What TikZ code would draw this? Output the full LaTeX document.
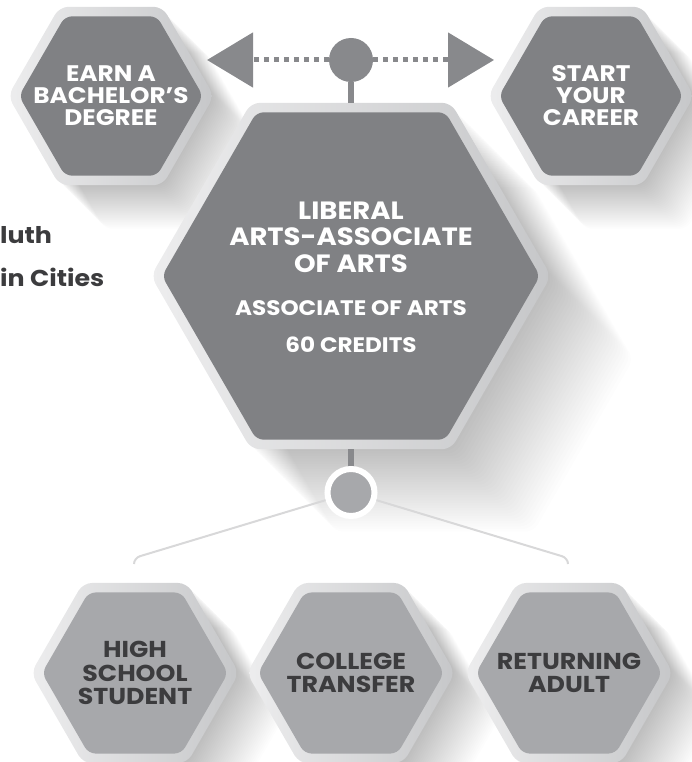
\documentclass[tikz,border=0pt]{standalone}
\usepackage{fontspec}
\setmainfont{Poppins}[FakeStretch=1.1]
\usetikzlibrary{shapes.geometric,arrows.meta,positioning,calc}
\definecolor{hexdark}{RGB}{128,129,132}
\definecolor{hexlight}{RGB}{167,168,171}
\definecolor{ringlight}{RGB}{237,237,238}
\definecolor{ringdark}{RGB}{198,199,201}
\definecolor{hubgray}{RGB}{136,137,140}
\definecolor{txtdark}{RGB}{60,60,62}
\definecolor{branchgray}{RGB}{216,216,217}
\tikzset{
  hexring/.style={regular polygon,regular polygon sides=6,inner sep=0pt,
    left color=ringlight,right color=ringdark,rounded corners=9pt},
  hexcore/.style={regular polygon,regular polygon sides=6,inner sep=0pt,
    rounded corners=7pt},
  goalhex/.style={hexcore,fill=hexdark,minimum size=184pt},
  starthex/.style={hexcore,fill=hexlight,minimum size=186pt},
  goaltext/.style={text=white,align=center,inner sep=0pt,
    font=\bfseries\fontsize{22.5}{22}\selectfont},
  starttext/.style={text=txtdark,align=center,inner sep=0pt,
    font=\bfseries\fontsize{23}{23.5}\selectfont},
  hexshadow/.style={fill=black,opacity=0.008,rounded corners=8pt},
  hubdot/.style={circle,fill=hubgray,inner sep=0pt,minimum size=44pt},
  forkdot/.style={circle,fill=hexlight,draw=white,line width=6pt,
    inner sep=0pt,minimum size=47pt},
  dotline/.style={draw=hubgray,line width=5pt,dash pattern=on 5pt off 5pt,
    -{Triangle[length=46pt,width=54pt]}},
  stub/.style={draw=hubgray,line width=6pt},
  branch/.style={draw=branchgray,line width=2pt,rounded corners=6pt},
  maintitle/.style={text=white,align=center,
    font=\bfseries\fontsize{25}{26.5}\selectfont},
  mainsub/.style={text=white,font=\bfseries\fontsize{21}{20}\selectfont},
  campus/.style={text=txtdark,font=\bfseries\fontsize{23}{24}\selectfont,
    inner sep=0pt}
}
\begin{document}
\begin{tikzpicture}[x=1pt,y=-1pt]
  \useasboundingbox (0,0) rectangle (692,762);

  % long shadows behind the hexagons
  \foreach \cx/\cy/\rr/\st in {111/96/102/1.4,591/96/102/1.4,351/276/199/2.6,
      135/673/104/1.4,351/673/104/1.4,569/673/104/1.4}
    \foreach \k in {1,...,32}
      \fill[hexshadow,shift={(\cx+\k*\st,\cy+\k*\st)}]
        (0:\rr) -- (60:\rr) -- (120:\rr) -- (180:\rr)
        -- (240:\rr) -- (300:\rr) -- cycle;

  % side text
  \node[campus,anchor=base west] (duluth) at (0,243) {luth};
  \node[campus,anchor=base west] (twin)   at (0,286) {in Cities};

  % goals on top
  \node[hexring,minimum size=206pt] (bachring) at (111,96) {};
  \node[goalhex] (bach) at (bachring.center) {};
  \node[goaltext] (bachtext) at (bach.center) {EARN A\\BACHELOR'S\\DEGREE};
  \node[hexring,minimum size=206pt] (carring) at (591,96) {};
  \node[goalhex] (career) at (carring.center) {};
  \node[goaltext] (careertext) at (career.center) {START\\YOUR\\CAREER};

  \node[hubdot] (hub) at (351,60) {};
  \coordinate (bachtip)   at (207,60);
  \coordinate (careertip) at (494,60);
  \draw[dotline] (hub) -- (bachtip);
  \draw[dotline] (hub) -- (careertip);

  % main program
  \node[hexring,minimum size=400pt] (libring) at (351,276) {};
  \node[hexcore,fill=hexdark,minimum size=378pt] (lib) at (libring.center) {};
  \node[maintitle] (libtitle) at (351,237) {LIBERAL\\ARTS-ASSOCIATE\\OF ARTS};
  \node[mainsub] (degree) at (351,308) {ASSOCIATE OF ARTS};
  \node[mainsub] (credits) at (351,345) {60 CREDITS};
  \draw[stub] (hub) -- (libring);

  % entry points
  \coordinate (fork) at (351,492.5);
  \coordinate (hsend) at (134,564);
  \coordinate (raend) at (568,564);
  \draw[branch] (fork) -- (134,558) -- (hsend);
  \draw[branch] (fork) -- (568,558) -- (raend);
  \draw[stub] (libring) -- (fork);
  \node[forkdot] (forkhub) at (fork) {};

  \node[hexring,minimum size=208pt] (hsring) at (135,673) {};
  \node[starthex] (hs) at (hsring.center) {};
  \node[starttext] (hstext) at (hs.center) {HIGH\\SCHOOL\\STUDENT};
  \node[hexring,minimum size=208pt] (ctring) at (351,673) {};
  \node[starthex] (ct) at (ctring.center) {};
  \node[starttext] (cttext) at (ct.center) {COLLEGE\\TRANSFER};
  \node[hexring,minimum size=208pt] (raring) at (569,673) {};
  \node[starthex] (ra) at (raring.center) {};
  \node[starttext] (ratext) at (ra.center) {RETURNING\\ADULT};
\end{tikzpicture}
\end{document}
